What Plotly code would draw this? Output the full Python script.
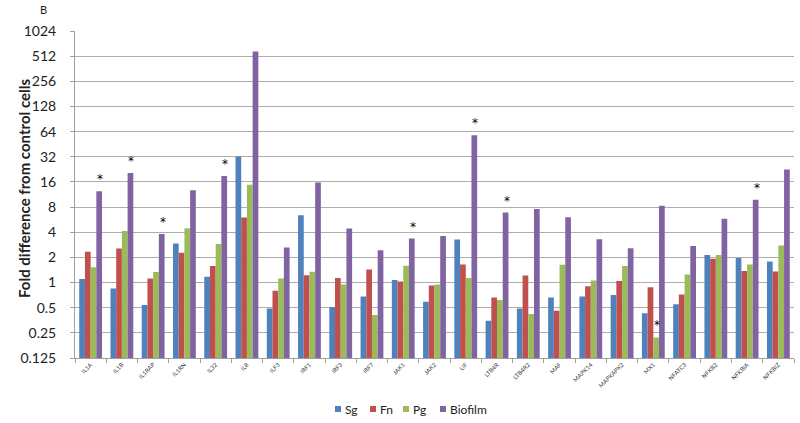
import math
import plotly.graph_objects as go

genes = ["IL1A", "IL1B", "IL1RAP", "IL1RN", "IL32", "IL8", "ILF3", "IRF1", "IRF3", "IRF7",
         "JAK1", "JAK2", "LIF", "LTB4R", "LTB4R2", "MAF", "MAPK14", "MAPKAPK2", "MX1",
         "NFATC3", "NFKB2", "NFKBIA", "NFKBIZ"]
sg = [1.10, 0.85, 0.54, 2.93, 1.17, 32.2, 0.49, 6.4, 0.51, 0.68, 1.07, 0.59, 3.27, 0.35,
      0.49, 0.66, 0.68, 0.71, 0.43, 0.55, 2.14, 1.97, 1.78]
fn = [2.33, 2.55, 1.12, 2.28, 1.58, 6.0, 0.80, 1.22, 1.13, 1.43, 1.03, 0.92, 1.64, 0.66,
      1.21, 0.46, 0.90, 1.04, 0.88, 0.72, 1.93, 1.37, 1.36]
pg = [1.52, 4.14, 1.34, 4.47, 2.9, 14.8, 1.12, 1.35, 0.95, 0.41, 1.59, 0.95, 1.13, 0.62,
      0.42, 1.63, 1.06, 1.58, 0.22, 1.25, 2.14, 1.64, 2.77]
biofilm = [12.4, 20.5, 3.82, 12.7, 18.9, 584, 2.62, 15.7, 4.43, 2.43, 3.36, 3.61, 58, 6.87,
           7.6, 6.05, 3.3, 2.57, 8.3, 2.74, 5.8, 9.8, 22.5]
# significance stars: (gene, series it sits above)
stars = [("IL1A", "Biofilm"), ("IL1B", "Biofilm"), ("IL1RAP", "Biofilm"), ("IL32", "Biofilm"),
         ("JAK1", "Biofilm"), ("LIF", "Biofilm"), ("LTB4R", "Biofilm"), ("MX1", "Pg"),
         ("NFKBIA", "Biofilm")]
yticks = [0.125, 0.25, 0.5, 1, 2, 4, 8, 16, 32, 64, 128, 256, 512, 1024]
ytick_text = ["0.125", "0.25", "0.5", "1", "2", "4", "8", "16", "32", "64", "128", "256", "512", "1024"]

series = [("Sg", sg, "#4F81BD"), ("Fn", fn, "#C0504D"), ("Pg", pg, "#9BBB59"), ("Biofilm", biofilm, "#8064A2")]

fig = go.Figure()
for name, vals, col in series:
    fig.add_trace(go.Bar(x=genes, y=vals, name=name, showlegend=False,
                         marker=dict(color=col, line=dict(width=0))))

bargap = 0.27
group_w = 1 - bargap
bar_w = group_w / 4
offsets = {"Sg": -1.5 * bar_w, "Fn": -0.5 * bar_w, "Pg": 0.5 * bar_w, "Biofilm": 1.5 * bar_w}
vals_by = {n: v for n, v, c in series}
for g, s in stars:
    i = genes.index(g)
    v = vals_by[s][i]
    fig.add_annotation(x=i + offsets[s] + 0.03, y=math.log10(v), xref="x", yref="y",
                       text="*", showarrow=False, yshift=12,
                       font=dict(family="DejaVu Sans", size=12, color="#000000"))

W, H = 719, 327  # plot area size in px
L, T = 75, 31


def px_x(px):
    return (px - L) / W


def px_y(py):
    return 1 - (py - T) / H


fig.add_annotation(x=px_x(43), y=px_y(10), xref="paper", yref="paper", text="B", showarrow=False,
                   xanchor="center", yanchor="middle",
                   font=dict(family="Lato", size=11, color="#222222"))
# y-axis title
fig.add_annotation(x=px_x(24), y=px_y(189), xref="paper", yref="paper",
                   text="<b>Fold difference from control cells</b>", showarrow=False,
                   textangle=-90, xanchor="center", yanchor="middle",
                   font=dict(family="Lato", size=15, color="#222222"))

# compact legend
leg_y_px = 409
leg_items = [("Sg", "#4F81BD", 335), ("Fn", "#C0504D", 370), ("Pg", "#9BBB59", 403), ("Biofilm", "#8064A2", 440)]
for name, col, px in leg_items:
    fig.add_shape(type="rect", xref="paper", yref="paper", x0=px_x(px), x1=px_x(px + 6),
                  y0=px_y(leg_y_px + 3), y1=px_y(leg_y_px - 3),
                  fillcolor=col, line=dict(width=0))
    fig.add_annotation(x=px_x(px + 8), y=px_y(leg_y_px), xref="paper", yref="paper",
                       text=name, showarrow=False, xanchor="left", yanchor="middle",
                       font=dict(family="Lato", size=12, color="#222222"))

fig.update_layout(
    width=800, height=423,
    margin=dict(l=L, r=800 - L - W, t=T, b=423 - T - H, autoexpand=False),
    paper_bgcolor="white", plot_bgcolor="white",
    barmode="group", bargap=bargap, bargroupgap=0,
    showlegend=False,
    font=dict(family="Lato", color="#222222"),
)
fig.update_yaxes(type="log", range=[math.log10(0.125), math.log10(1024)],
                 tickvals=yticks, ticktext=ytick_text,
                 showgrid=True, gridcolor="#ADADAD", gridwidth=1.3,
                 showline=True, linecolor="#A0A0A0", linewidth=1,
                 ticks="outside", ticklen=4, tickcolor="#A0A0A0",
                 ticklabelstandoff=11, automargin=False,
                 tickfont=dict(family="Lato", size=14, color="#222222"),
                 zeroline=False)
fig.update_xaxes(type="category", range=[-0.5, len(genes) - 0.5], automargin=False,
                 showline=True, linecolor="#A0A0A0", linewidth=1,
                 ticks="outside", ticklen=4, tickcolor="#A0A0A0", tickson="boundaries",
                 tickangle=-45, tickfont=dict(family="Lato", size=6, color="#333333"),
                 showgrid=False)

fig.write_html("out.html", config={"displayModeBar": False},
               post_script="document.body.style.margin='0px';document.body.style.padding='0px';")
